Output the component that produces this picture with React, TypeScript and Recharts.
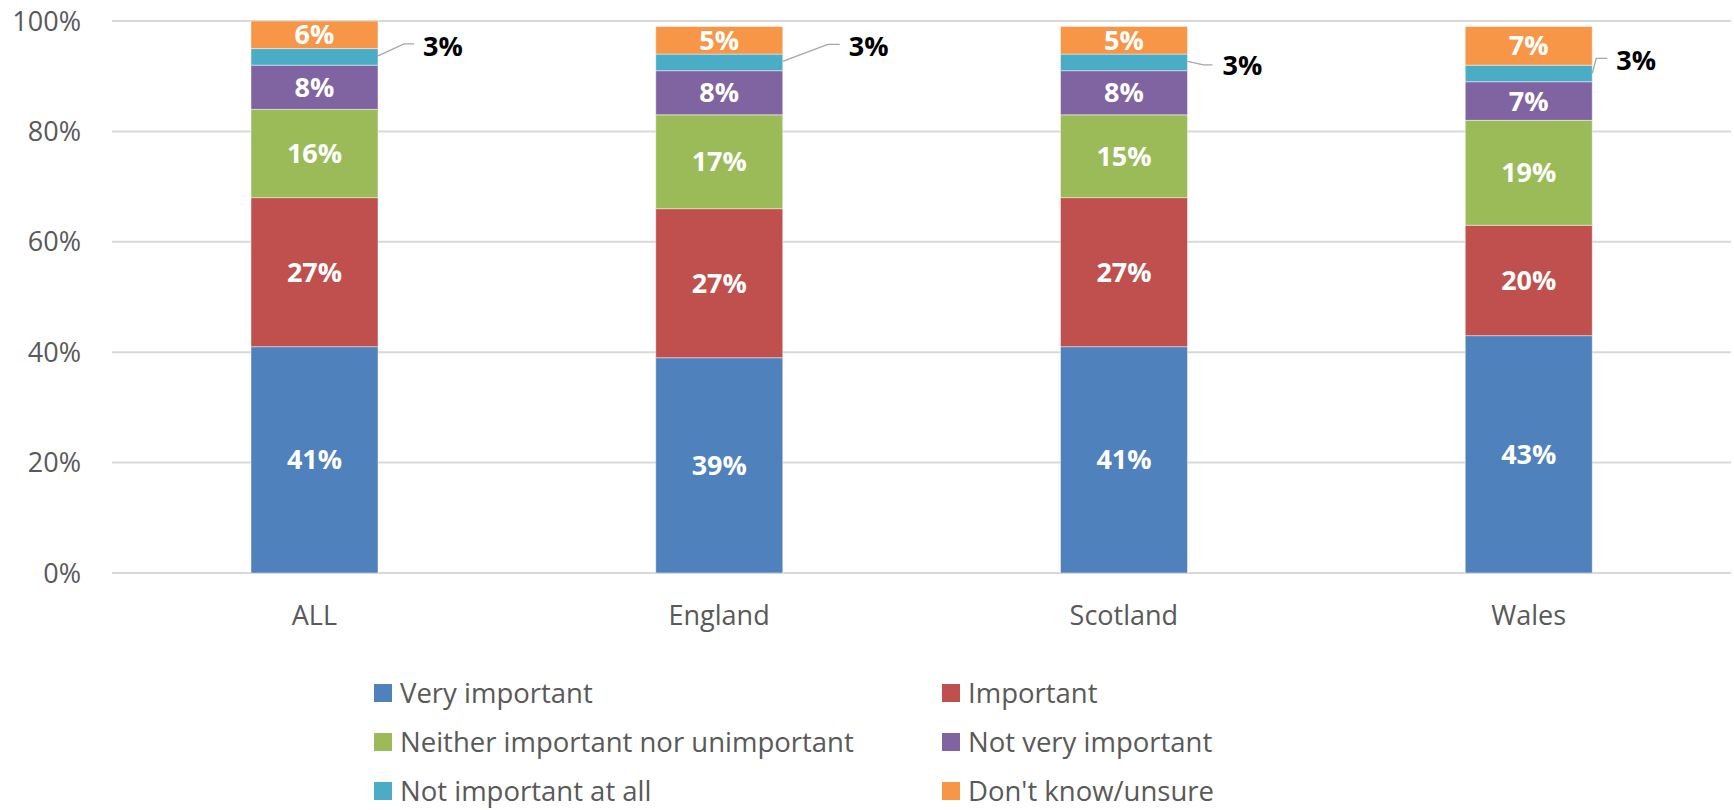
import React from 'react';
import { BarChart, Bar, XAxis, YAxis, CartesianGrid, LabelList, Legend } from 'recharts';

const categories = ['ALL', 'England', 'Scotland', 'Wales'];
const veryImportant = [41, 39, 41, 43];
const important = [27, 27, 27, 20];
const neither = [16, 17, 15, 19];
const notVeryImportant = [8, 8, 8, 7];
const notImportantAtAll = [3, 3, 3, 3];
const dontKnow = [6, 5, 5, 7];
const yTicks = [0, 20, 40, 60, 80, 100];

const seriesNames = [
  'Very important',
  'Important',
  'Neither important nor unimportant',
  'Not very important',
  'Not important at all',
  "Don't know/unsure",
];
const seriesKeys = ['vi', 'im', 'ne', 'nv', 'na', 'dk'];
const seriesValues = [veryImportant, important, neither, notVeryImportant, notImportantAtAll, dontKnow];
const seriesColors = ['#4F81BD', '#C0504D', '#9BBB59', '#8064A2', '#4BACC6', '#F79646'];

// callout label layout for the small "Not important at all" segment (offsets from bar edge / segment centre)
const calloutLayout = [
  { startDy: -1, elbowDx: 26, elbowDy: -13, endDx: 36, textDx: 45, textDy: -10 },
  { startDy: -1, elbowDx: 45, elbowDy: -18, endDx: 57, textDx: 66, textDy: -16 },
  { startDy: -1, elbowDx: 16, elbowDy: 2.5, endDx: 25, textDx: 35, textDy: 3.5 },
  { startDy: 0, elbowDx: 4, elbowDy: -15, endDx: 15, textDx: 24, textDy: -13 },
];

const data = categories.map((c, i) => {
  const row: any = { name: c };
  seriesKeys.forEach((k, s) => {
    row[k] = seriesValues[s][i];
  });
  return row;
});

const FONT = "'Open Sans', sans-serif";

const CalloutLabel = (props: any) => {
  const vb = props.viewBox || {};
  const x = vb.x ?? props.x;
  const y = vb.y ?? props.y;
  const w = vb.width ?? props.width;
  const h = vb.height ?? props.height;
  const idx = props.index ?? 0;
  const lay = calloutLayout[idx] || calloutLayout[0];
  const right = x + w;
  const cy = y + h / 2;
  return (
    <g>
      <polyline
        points={`${right},${cy + lay.startDy} ${right + lay.elbowDx},${cy + lay.elbowDy} ${right + lay.endDx},${cy + lay.elbowDy}`}
        fill="none"
        stroke="#A6A6A6"
        strokeWidth={1.3}
      />
      <text
        x={right + lay.textDx}
        y={cy + lay.textDy}
        dy="0.355em"
        textAnchor="start"
        fill="#000000"
        fontFamily={FONT}
        fontWeight={700}
        fontSize={27}
      >
        {`${props.value}%`}
      </text>
    </g>
  );
};

const LegendContent = () => (
  <div
    style={{
      display: 'grid',
      gridTemplateColumns: '568px 420px',
      gridAutoRows: '28px',
      rowGap: 21,
      paddingTop: 9,
      fontFamily: FONT,
      fontSize: 27.5,
      lineHeight: '28px',
      color: '#595959',
    }}
  >
    {seriesNames.map((n, i) => (
      <div key={n} style={{ display: 'flex', alignItems: 'center', whiteSpace: 'nowrap', height: 28 }}>
        <span
          style={{
            display: 'inline-block',
            width: 18,
            height: 18,
            background: seriesColors[i],
            marginRight: 8,
            flex: '0 0 auto',
          }}
        />
        <span style={{ lineHeight: '28px' }}>{n}</span>
      </div>
    ))}
  </div>
);

export default function App() {
  return (
    <div style={{ fontFamily: FONT, position: 'absolute', left: 0, top: 0 }}>
      <BarChart
        width={1734}
        height={810}
        data={data}
        margin={{ top: 21, right: 3, left: 8, bottom: 177 }}
      >
        <CartesianGrid vertical={false} stroke="#D9D9D9" strokeWidth={2} />
        <XAxis
          dataKey="name"
          axisLine={false}
          tickLine={false}
          tickSize={0}
          tickMargin={33}
          height={60}
          tick={{ fill: '#595959', fontSize: 27, fontFamily: FONT }}
        />
        <YAxis
          domain={[0, 100]}
          ticks={yTicks}
          allowDataOverflow
          axisLine={false}
          tickLine={false}
          tickSize={0}
          tickMargin={31}
          width={104}
          tickFormatter={(v: number) => `${v}%`}
          tick={{ fill: '#595959', fontSize: 27, fontFamily: FONT }}
        />
        <Legend
          layout="horizontal"
          verticalAlign="middle"
          content={<LegendContent />}
          wrapperStyle={{ position: 'absolute', left: 374, top: 670, width: 1000, height: 136 }}
        />
        {seriesKeys.map((k, s) => (
          <Bar
            key={k}
            dataKey={k}
            name={seriesNames[s]}
            stackId="a"
            fill={seriesColors[s]}
            stroke="#FFFFFF"
            strokeOpacity={0.45}
            strokeWidth={1}
            barSize={127}
            isAnimationActive={false}
          >
            {k === 'na' ? (
              <LabelList dataKey={k} content={(p: any) => <CalloutLabel {...p} />} />
            ) : (
              <LabelList
                dataKey={k}
                position="center"
                formatter={(v: any) => `${v}%`}
                fill="#FFFFFF"
                fontFamily={FONT}
                fontWeight={700}
                fontSize={27}
              />
            )}
          </Bar>
        ))}
      </BarChart>
    </div>
  );
}
